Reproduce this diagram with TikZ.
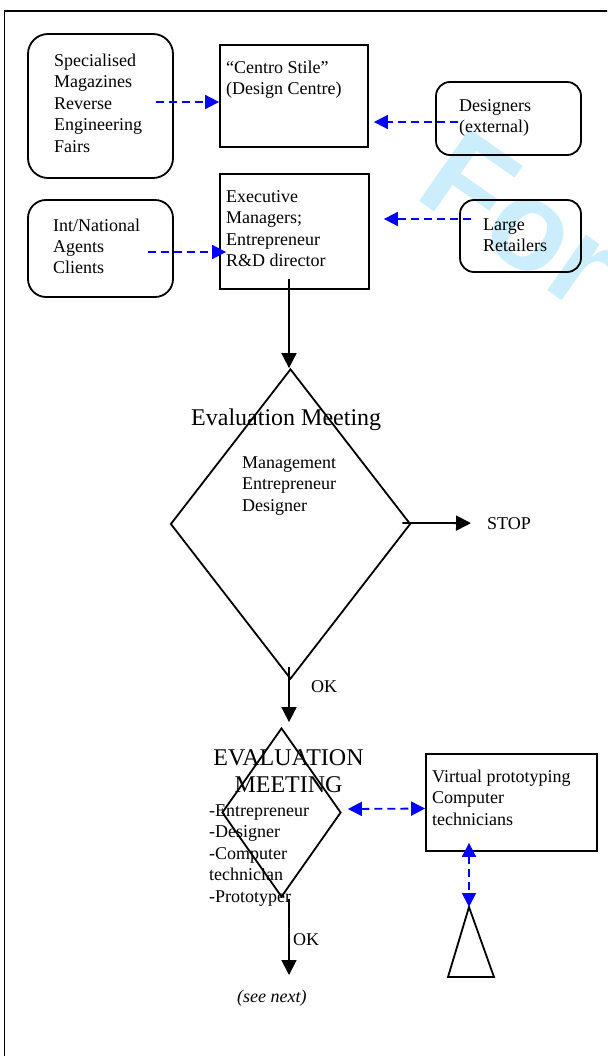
\documentclass[tikz,border=0pt]{standalone}
\usepackage{fontspec}
\setmainfont{Liberation Serif}
\newfontfamily\wmfont{Liberation Sans}
\usetikzlibrary{shapes.geometric,arrows.meta}
\definecolor{wmcyan}{RGB}{204,238,252}
\tikzset{
  sq/.style={draw, line width=1.8pt, rectangle, inner sep=0pt},
  rbox/.style={sq, rounded corners=#1},
  dia/.style={draw, line width=1.8pt, diamond, inner sep=0pt},
  txt/.style={anchor=base west, inner sep=0pt, align=left, font=\fontsize{18}{21.5}\selectfont},
  bigtxt/.style={inner sep=0pt, align=center, font=\fontsize{24}{27}\selectfont},
  blk/.style={draw, line width=1.8pt, -{Triangle[length=15pt,width=15pt]}},
  blu/.style={draw=blue, line width=1.8pt, dash pattern=on 8pt off 5pt, -{Triangle[length=14pt,width=14pt,fill=blue]}},
  blu2/.style={draw=blue, line width=1.8pt, dash pattern=on 8pt off 5pt, {Triangle[length=14pt,width=14pt,fill=blue]}-{Triangle[length=14pt,width=14pt,fill=blue]}},
  tri/.style={draw, line width=1.8pt, line join=miter}
}
\begin{document}
\begin{tikzpicture}[x=1pt,y=-1pt]
\useasboundingbox (0,0) rectangle (607,1056);
\clip (0,0) rectangle (607,1056);
\fill[white] (0,0) rectangle (607,1056);
% watermark
\node[anchor=base west, inner sep=0pt, rotate=-35, text=wmcyan, font=\wmfont\bfseries\fontsize{128}{128}\selectfont] (wm) at (412,196) {For};
% frame
\draw[line width=1.6pt] (4.5,1070) -- (4.5,11) -- (620,11);
% boxes
\node[rbox=20pt, minimum width=145pt, minimum height=144pt] (spec) at (100.5,106) {};
\node[sq, minimum width=148pt, minimum height=102pt] (centro) at (294,96) {};
\node[rbox=14pt, minimum width=145pt, minimum height=73pt] (desig) at (508.5,118.5) {};
\node[rbox=18pt, minimum width=145pt, minimum height=97pt] (intl) at (100.5,248.5) {};
\node[sq, minimum width=149pt, minimum height=115pt] (exec) at (294.5,231.5) {};
\node[rbox=14pt, minimum width=121pt, minimum height=72pt] (retail) at (520.5,236) {};
\node[dia, minimum width=240pt, minimum height=310pt] (d1) at (290.5,524) {};
\node[dia, minimum width=119pt, minimum height=169pt] (d2) at (281.5,812.5) {};
\node[sq, minimum width=171pt, minimum height=97pt] (virt) at (511.5,802.5) {};
\coordinate (apex) at (469,907);
\draw[tri] (apex) -- (494,977) -- (448,977) -- cycle;
% texts (anchored at the baseline of the last line)
\node[txt] (tspec) at (54,152.5) {Specialised\\Magazines\\Reverse\\Engineering\\Fairs};
\node[txt] (tcentro) at (226,95) {“Centro Stile”\\(Design Centre)};
\node[txt] (tdesig) at (459,133) {Designers\\(external)};
\node[txt] (tintl) at (53,274) {Int/National\\Agents\\Clients};
\node[txt] (texec) at (226,267) {Executive\\Managers;\\Entrepreneur\\R\&D director};
\node[txt] (tretail) at (483,252) {Large\\Retailers};
\node[bigtxt, anchor=base west] (td1) at (191,425) {Evaluation Meeting};
\node[txt] (ld1) at (242,511) {Management\\Entrepreneur\\Designer};
\node[txt] (stop) at (487,529) {STOP};
\node[txt] (ok1) at (311,692) {OK};
\node[bigtxt, anchor=base] (td2) at (288.5,792) {EVALUATION\\MEETING};
\node[txt] (ld2) at (209,902) {-Entrepreneur\\-Designer\\-Computer\\technician\\-Prototyper};
\node[txt] (ok2) at (293,945) {OK};
\node[txt, font=\fontsize{18}{21.5}\selectfont\itshape] (next) at (237,1002) {(see next)};
\node[txt] (tvirt) at (432,825) {Virtual prototyping\\Computer\\technicians};
% connectors
\draw[blu] ([shift={(-18,-4)}]spec.east) -- ([shift={(0,6)}]centro.west);
\draw[blu] ([shift={(23,3.5)}]desig.west) -- ([shift={(5,26)}]centro.east);
\draw[blu] ([shift={(-26,3.5)}]intl.east) -- ([shift={(7,20.5)}]exec.west);
\draw[blu] ([shift={(12,-17)}]retail.west) -- ([shift={(14,-12.5)}]exec.east);
\draw[blk] ([shift={(-5.5,-11)}]exec.south) -- ([shift={(-1.5,0)}]d1.north);
\draw[blk] ([shift={(-9,-1)}]d1.east) -- ([xshift=-16pt]stop.west);
\draw[blk] ([shift={(-1.5,-13)}]d1.south) -- ([shift={(7.5,-5)}]d2.north);
\draw[blu2] ([shift={(6,-3.5)}]d2.east) -- ([shift={(0,6)}]virt.west);
\draw[blu2] ([shift={(-42.5,-9)}]virt.south) -- (apex);
\draw[blk] ([shift={(7.5,1)}]d2.south) -- ([shift={(52,-27)}]next.base west);
\end{tikzpicture}
\end{document}
